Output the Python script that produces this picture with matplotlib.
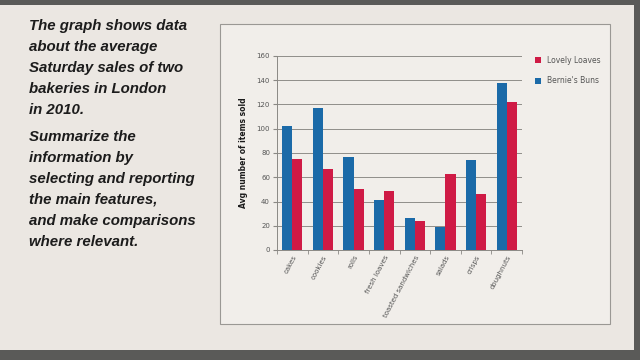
import numpy as np
import matplotlib.pyplot as plt
from matplotlib.patches import Rectangle

categories = ['cakes', 'cookies', 'rolls', 'fresh loaves', 'toasted sandwiches',
              'salads', 'crisps', 'doughnuts']
bernies_buns = [102, 117, 77, 41, 26, 19, 74, 138]
lovely_loaves = [75, 67, 50, 49, 24, 63, 46, 122]
y_ticks = [0, 20, 40, 60, 80, 100, 120, 140, 160]

intro = "The graph shows data\nabout the average\nSaturday sales of two\nbakeries in London\nin 2010."
task = "Summarize the\ninformation by\nselecting and reporting\nthe main features,\nand make comparisons\nwhere relevant."

blue = '#1b6aa8'
red = '#cf1a45'

fig = plt.figure(figsize=(6.4, 3.6), dpi=100)
fig.patch.set_facecolor('#5a5a58')

# page and chart panel
fig.patches.append(Rectangle((0.0, 1 - 350 / 360), 634 / 640, 345 / 360,
                             transform=fig.transFigure, facecolor='#ebe7e2',
                             edgecolor='none', zorder=0))
fig.patches.append(Rectangle((220 / 640, 1 - 324 / 360), 390 / 640, 300 / 360,
                             transform=fig.transFigure, facecolor='#f1eeea',
                             edgecolor='#9a9894', linewidth=0.8, zorder=0))

fig.text(29 / 640, 1 - 19 / 360, intro, ha='left', va='top', fontsize=10.8,
         fontweight='bold', fontstyle='italic', family='Liberation Sans',
         color='#1c1c1c', linespacing=1.63)
fig.text(29 / 640, 1 - 130 / 360, task, ha='left', va='top', fontsize=10.8,
         fontweight='bold', fontstyle='italic', family='Liberation Sans',
         color='#1c1c1c', linespacing=1.63)

ax = fig.add_axes([277 / 640, 1 - 250 / 360, 245 / 640, 194 / 360])
ax.set_zorder(2)
ax.set_facecolor('none')
x = np.arange(len(categories))
w = 0.33
ax.bar(x - w / 2, bernies_buns, w, color=blue, label="Bernie's Buns", zorder=3)
ax.bar(x + w / 2, lovely_loaves, w, color=red, label='Lovely Loaves', zorder=3)

ax.set_xlim(-0.5, len(categories) - 0.5)
ax.set_ylim(0, 160)
ax.set_yticks(y_ticks)
ax.set_yticklabels([str(v) for v in y_ticks], fontsize=5, color='#555555')
ax.yaxis.grid(True, color='#8f8d89', linewidth=0.7, zorder=0)
ax.set_xticks(x)
ax.set_xticklabels(categories, rotation=62, ha='right', rotation_mode='anchor',
                   fontsize=5, color='#555555')
ax.tick_params(axis='x', length=0, pad=3)
ax.set_xticks(np.arange(len(categories) + 1) - 0.5, minor=True)
ax.tick_params(axis='x', which='minor', length=3, color='#8a8884')
ax.tick_params(axis='y', length=3, color='#8a8884', pad=2)
for s in ['top', 'right']:
    ax.spines[s].set_visible(False)
for s in ['left', 'bottom']:
    ax.spines[s].set_color('#8a8884')
    ax.spines[s].set_linewidth(0.7)
ax.set_ylabel('Avg number of items sold', fontsize=5.5, color='#1a1a1a',
              fontweight='bold', labelpad=6)

handles, labels = ax.get_legend_handles_labels()
fig.legend(handles[::-1], labels[::-1], loc='upper left',
           bbox_to_anchor=(528 / 640, 1 - 49 / 360), frameon=False, fontsize=5.5,
           handlelength=0.8, handleheight=0.8, labelspacing=1.5,
           labelcolor='#555555')

fig.savefig('out.png', dpi=100, facecolor=fig.get_facecolor())
